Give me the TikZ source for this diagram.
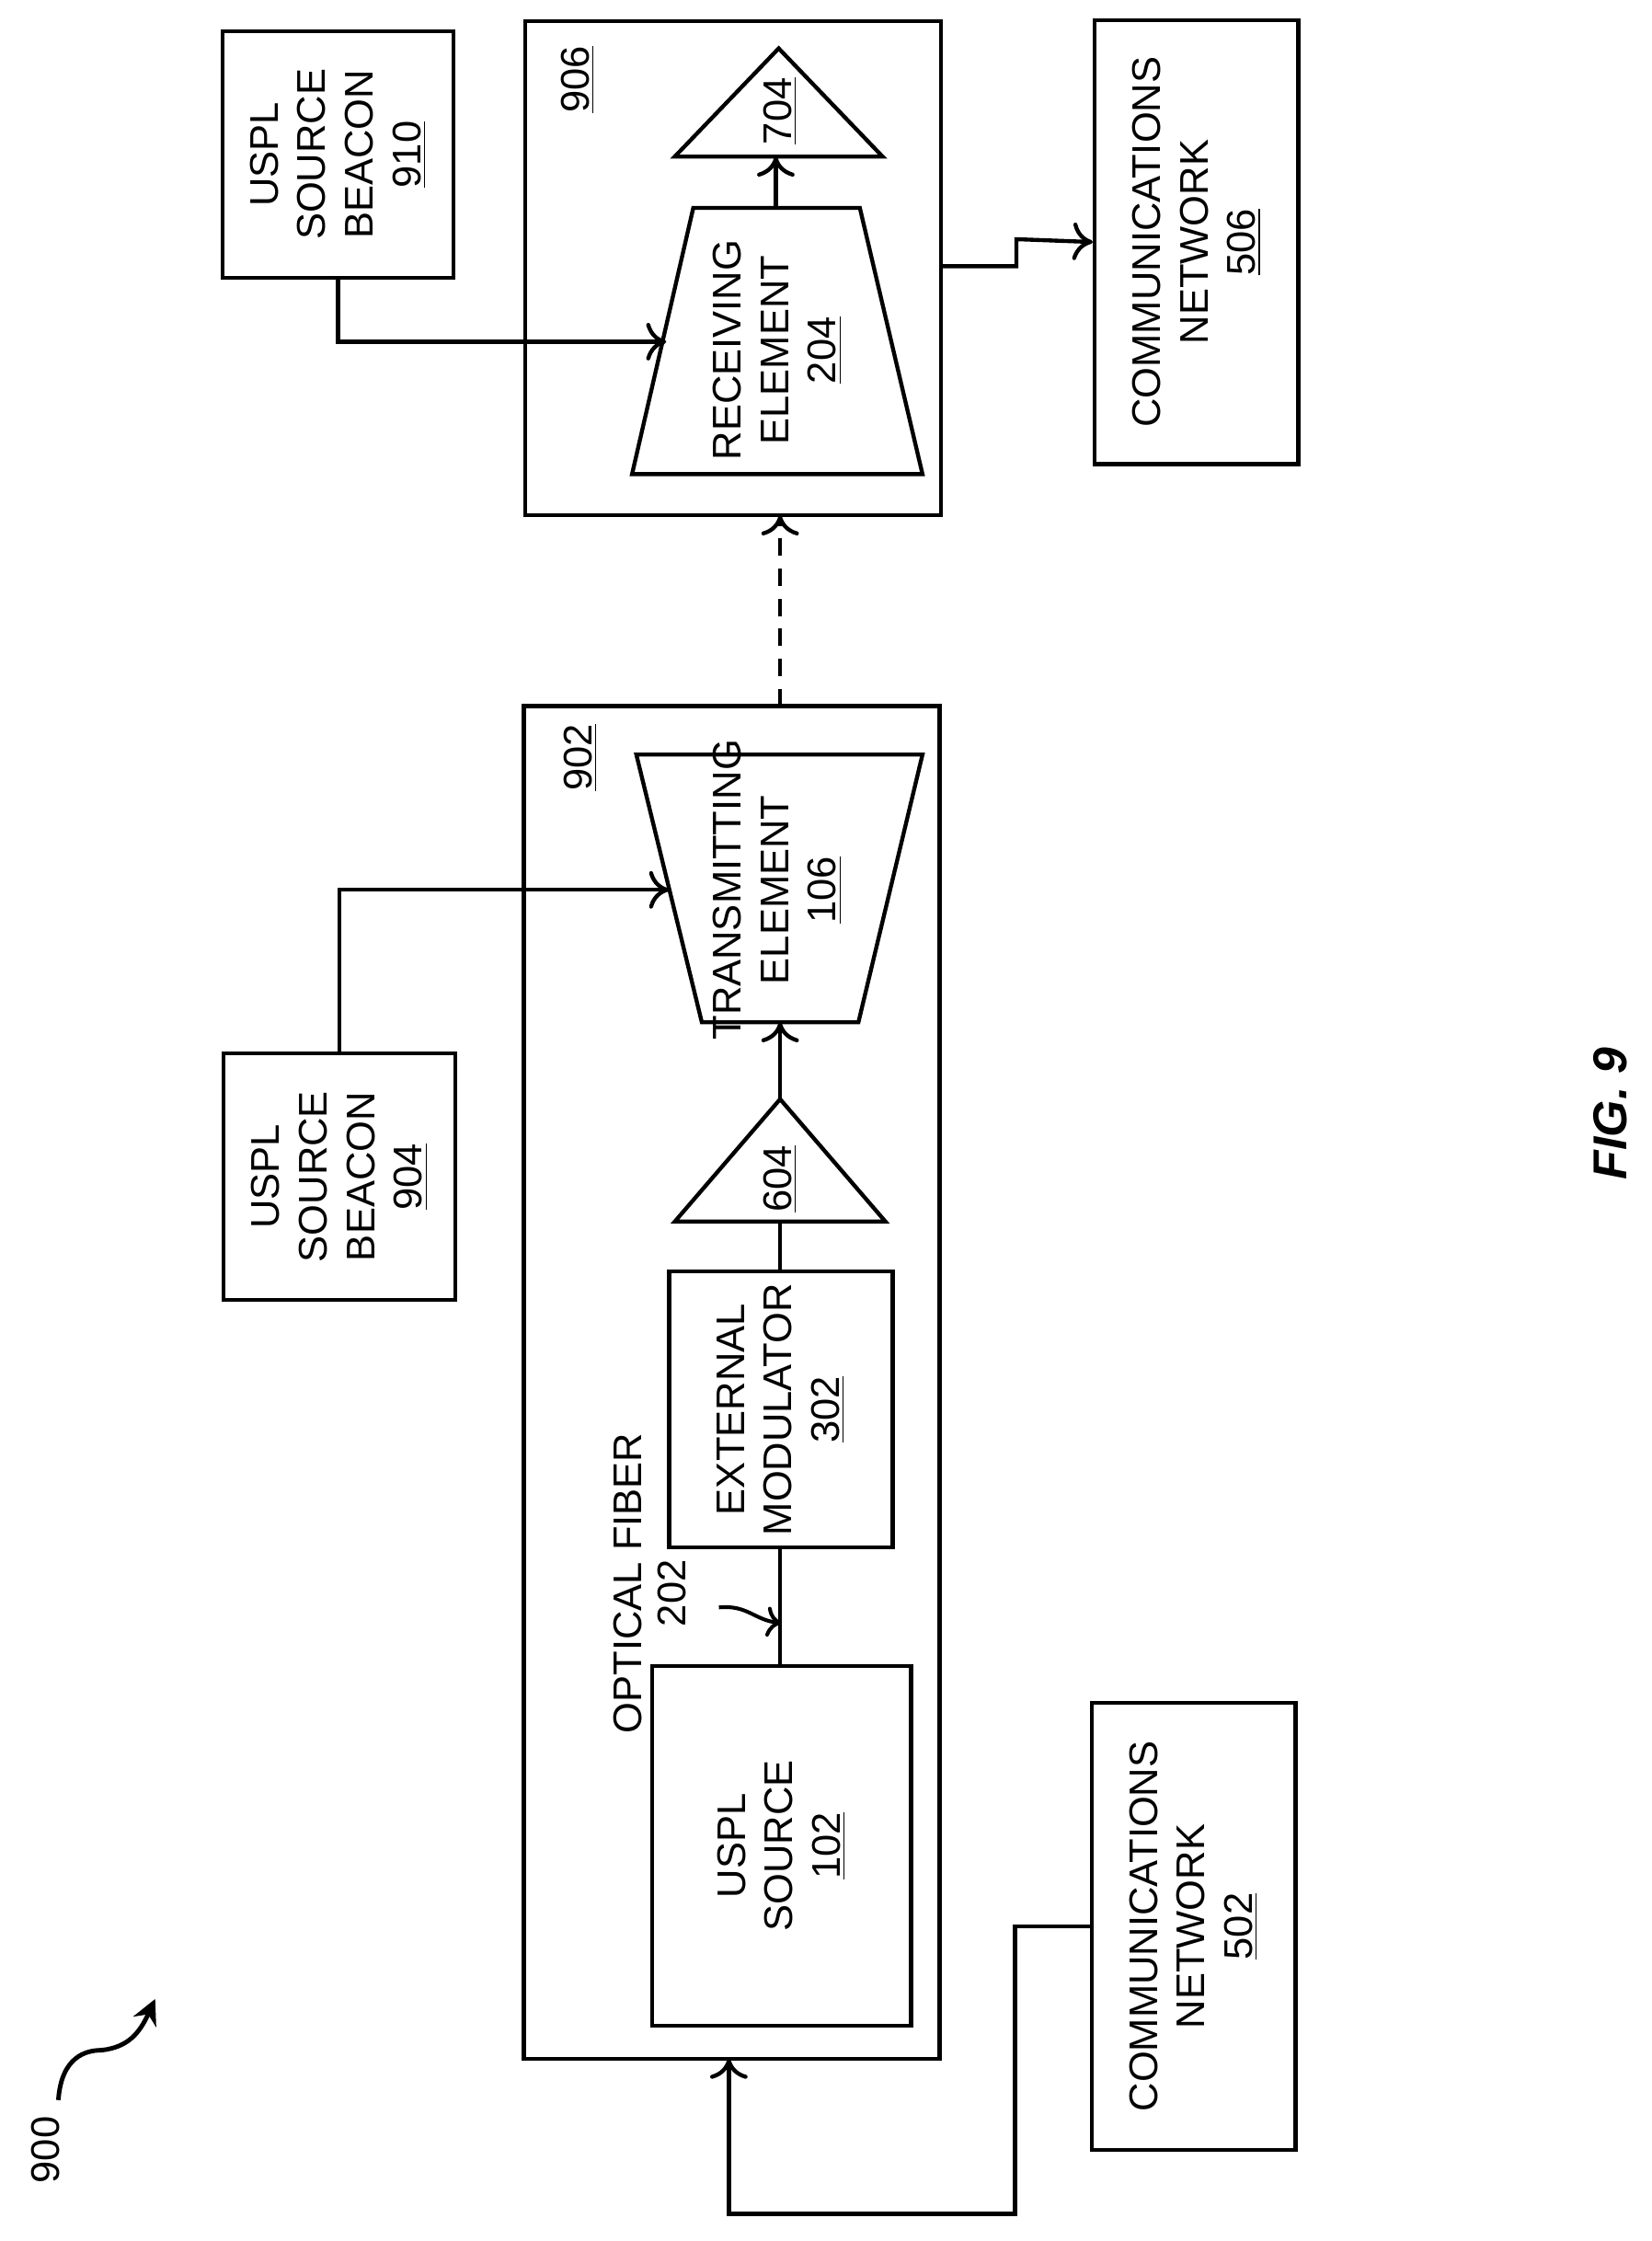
\documentclass[tikz,border=0pt]{standalone}
\usepackage{fontspec}
\setmainfont{Liberation Sans}
\usetikzlibrary{arrows.meta}

\begin{document}
\begin{tikzpicture}[x=0.02cm, y=-0.02cm, line width=1.6pt,
                    box/.style={draw, line width=1.6pt},
                    lbl/.style={rotate=90, align=center, font=\fontsize{16}{19}\selectfont},
                    conn/.style={line width=1.6pt, -{To[length=8pt,width=15pt]}},
                ]
                    \useasboundingbox (0,0) rectangle (1160,1574);
                    %Outer boxes
                    \draw[box] (368,496) rectangle (660,1446);
                    \draw[box] (369,15) rectangle (661,362);
                    \node[lbl] (l902) at (408,532) {\underline{902}};
                    \node[lbl] (l906) at (406,56) {\underline{906}};

                    %Beacons and networks
                    \node[box, minimum width=3.24cm, minimum height=3.46cm] (beacon1) at (237.5,108.5) {};
                    \node[lbl] at (beacon1) {USPL\\SOURCE\\BEACON\\\underline{910}};
                    \node[box, minimum width=3.26cm, minimum height=3.46cm] (beacon2) at (238.5,826.5) {};
                    \node[lbl] at (beacon2) {USPL\\SOURCE\\BEACON\\\underline{904}};
                    \node[box, minimum width=2.86cm, minimum height=6.24cm] (net2) at (840.5,170) {};
                    \node[lbl] at (net2) {COMMUNICATIONS\\NETWORK\\\underline{506}};
                    \node[box, minimum width=2.86cm, minimum height=6.28cm] (net1) at (838.5,1353) {};
                    \node[lbl] at (net1) {COMMUNICATIONS\\NETWORK\\\underline{502}};

                    %Inner blocks
                    \node[box, minimum width=3.64cm, minimum height=5.06cm] (src) at (549,1296.5) {};
                    \node[lbl] at (src) {USPL\\SOURCE\\\underline{102}};
                    \node[box, minimum width=3.14cm, minimum height=3.88cm] (mod) at (548.5,990) {};
                    \node[lbl] at (mod) {EXTERNAL\\MODULATOR\\\underline{302}};
                    \draw[box] (474,858) -- (548,772) -- (622,858) -- cycle;
                    \node[lbl] (amp1) at (548,828) {\underline{604}};
                    \draw[box] (447,530) -- (648,530) -- (603,718) -- (493,718) -- cycle;
                    \node[lbl] (tx) at (546,625) {TRANSMITTING\\ELEMENT\\\underline{106}};
                    \draw[box] (474,110) -- (547,34) -- (620,110) -- cycle;
                    \node[lbl] (amp2) at (548,78) {\underline{704}};
                    \draw[box] (444,333) -- (487,146) -- (604,146) -- (648,333) -- cycle;
                    \node[lbl] (rx) at (546,246) {RECEIVING\\ELEMENT\\\underline{204}};

                    %Fiber label
                    \node[lbl] (fib) at (441,1112) {OPTICAL FIBER};
                    \node[lbl] (f202) at (472,1119) {202};

                    %Lines
                    \coordinate (srcT) at (548,1170);
                    \coordinate (modB) at (548,1087);
                    \draw (srcT) -- (modB);
                    \draw (548,893) -- (548,858);
                    \draw[conn] (548,772) -- (548,718);
                    \draw[conn] (545,146) -- (545,110);
                    \draw[conn, dash pattern=on 7pt off 5pt] (548,496) -- (548,362);
                    \draw[conn] (beacon1.south) |- (468,240);
                    \draw[conn] (beacon2.north) |- (470,625);
                    \draw[conn] (661,187) -- (714,187) -- (714,168) -- (net2.west);
                    \draw[conn] (net1.west) -| (713,1555) -| (512,1446);
                    \draw[line width=1.5pt, -{To[length=6pt,width=12pt]}] (505,1129) .. controls (525,1127) and (530,1138) .. (549,1140);

                    %Figure label
                    \draw[line width=1.8pt, -{Stealth[length=10pt,width=10pt]}] (41,1475) .. controls (43,1445) and (60,1440) .. (71,1440) .. controls (90,1438) and (98,1428) .. (109,1404);
                    \node[lbl] (l900) at (32,1510) {900};
                    \node[lbl, font=\fontsize{19}{22}\selectfont\bfseries\itshape] (fig) at (1131,782) {FIG. 9};
                \end{tikzpicture}
\end{document}
